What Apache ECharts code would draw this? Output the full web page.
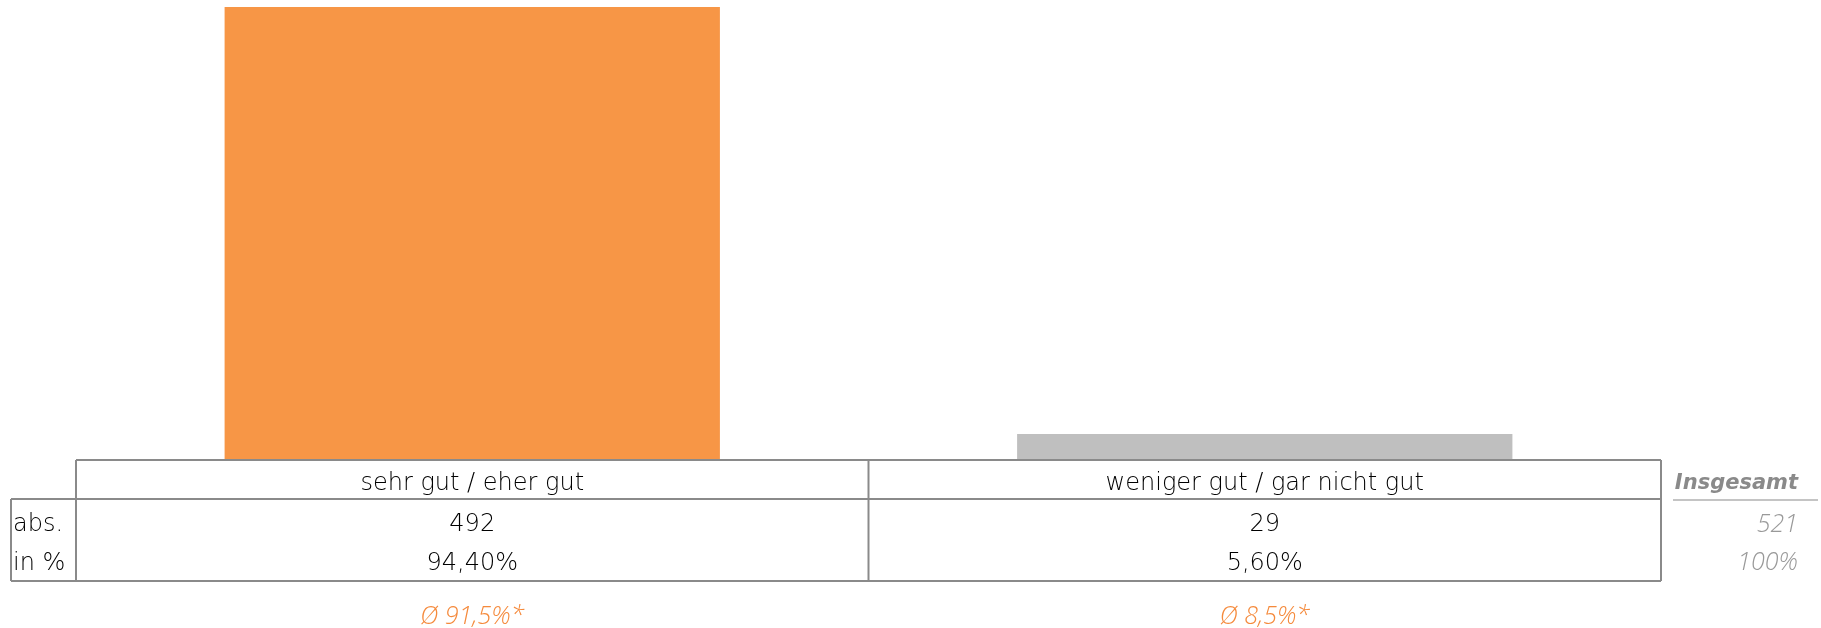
<!doctype html>
<html>
<head>
  <meta charset="utf-8">
  <script src="https://cdn.jsdelivr.net/npm/echarts@6/dist/echarts.min.js"></script>
  <style>
    html, body { margin: 0; padding: 0; background: #fff; }
    #chart { width: 1821px; height: 628px; }
  </style>
</head>
<body>
<div id="chart"></div>
<script>
  // data
  var categories = ['sehr gut / eher gut', 'weniger gut / gar nicht gut'];
  var percentValues = [94.4, 5.6];
  var absValues = [492, 29];
  var percentLabels = ['94,40%', '5,60%'];
  var avgLabels = ['Ø 91,5%*', 'Ø 8,5%*'];
  var barColors = ['#F79646', '#BFBFBF'];
  var rowLabels = ['abs.', 'in %'];
  var totalTitle = 'Insgesamt';
  var totalLabels = ['521', '100%'];

  var FONT = '"DejaVu Sans ExtraLight", "DejaVu Sans"';
  var ITALIC_FONT = '"Open Sans"';
  var chart = echarts.init(document.getElementById('chart'));

  var gridLeft = 76, gridRight = 160, gridTop = 7, gridBottom = 167;

  chart.setOption({
    animation: false,
    grid: { left: gridLeft, right: gridRight, top: gridTop, bottom: gridBottom },
    xAxis: {
      type: 'category',
      data: categories,
      axisLine: { show: false },
      axisTick: { show: false },
      axisLabel: { show: false }
    },
    yAxis: {
      type: 'value',
      min: 0,
      max: 94.4,
      show: false
    },
    series: [{
      type: 'bar',
      barCategoryGap: '37.5%',
      data: percentValues.map(function (v, i) {
        return { value: v, itemStyle: { color: barColors[i] } };
      })
    }]
  });

  // table below the bars
  var lineColor = '#8a8a8a';
  var tTop = 460, tRow = 499, tBottom = 581;
  var xLeft = 11, xGrid = gridLeft, xRight = 1821 - gridRight;
  var graphics = [];
  function line(x1, y1, x2, y2, color, w) {
    graphics.push({ type: 'line', shape: { x1: x1, y1: y1, x2: x2, y2: y2 },
      style: { stroke: color || lineColor, lineWidth: w || 2 }, z: 10 });
  }
  function text(str, x, y, opts) {
    graphics.push({ type: 'text', x: x, y: y, z: 11, style: Object.assign({
      text: str, fontFamily: FONT, fontSize: 24, fontWeight: 200, fill: '#000000',
      align: 'center', verticalAlign: 'middle'
    }, opts || {}) });
  }
  var italic = { fontFamily: ITALIC_FONT, fontStyle: 'italic', fontWeight: 300, fontSize: 25 };

  line(xGrid, tTop, xRight, tTop);
  line(xLeft, tRow, xRight, tRow);
  line(xLeft, tBottom, xRight, tBottom);
  line(xLeft, tRow, xLeft, tBottom);
  line(xGrid, tTop, xGrid, tBottom);
  line(xRight, tTop, xRight, tBottom);

  var colW = (xRight - xGrid) / categories.length;
  categories.forEach(function (c, i) {
    var cx = chart.convertToPixel({ xAxisIndex: 0 }, c);
    if (i > 0) line(xGrid + colW * i, tTop, xGrid + colW * i, tBottom);
    text(c, cx, 484);
    text(String(absValues[i]), cx, 525);
    text(percentLabels[i], cx, 564);
    text(avgLabels[i], cx, 617, Object.assign({}, italic, { fill: '#F58A3C' }));
  });

  text(rowLabels[0], 13, 525, { align: 'left' });
  text(rowLabels[1], 13, 564, { align: 'left' });

  text(totalTitle, 1798, 484, { align: 'right', fontStyle: 'italic', fontWeight: 'bold', fill: '#8a8a8a', fontSize: 21, fontFamily: '"DejaVu Sans"' });
  line(1673, 500, 1818, 500, '#c4c4c4', 2);
  text(totalLabels[0], 1798, 525, Object.assign({}, italic, { align: 'right', fill: '#999999' }));
  text(totalLabels[1], 1798, 563, Object.assign({}, italic, { align: 'right', fill: '#999999' }));

  chart.setOption({ graphic: graphics });
</script>
</body>
</html>
